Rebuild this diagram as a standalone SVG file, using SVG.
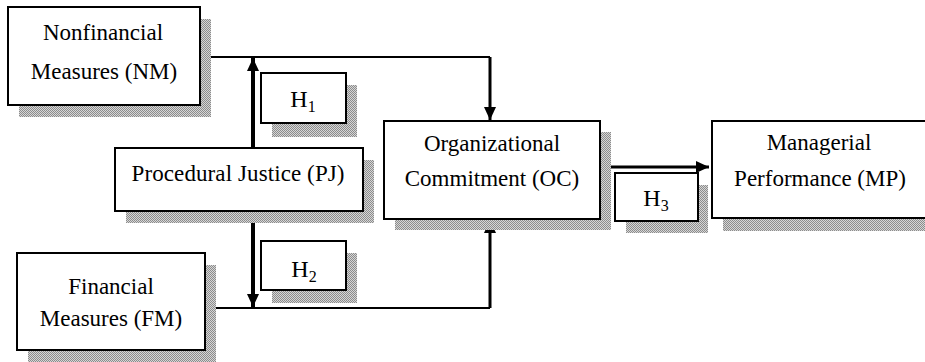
<svg xmlns="http://www.w3.org/2000/svg" width="925" height="362" viewBox="0 0 925 362">
  <style>
    .box { fill: #ffffff; stroke: #000000; stroke-width: 2; }
    .shadow { fill: url(#dither); stroke: none; }
    .label { font-family: "Liberation Serif", "Times New Roman", serif; font-size: 23px; fill: #000000; text-anchor: middle; }
    .hyp { font-family: "Liberation Serif", "Times New Roman", serif; font-size: 24px; fill: #000000; text-anchor: middle; }
    .hyp tspan.sub { font-size: 16px; }
    .thin { fill: none; stroke: #000000; stroke-width: 2; }
    .thick { fill: none; stroke: #000000; stroke-width: 4; }
    .mid { fill: none; stroke: #000000; stroke-width: 3; }
  </style>
  <defs>
    <!-- fine checkerboard used for the drop shadows -->
    <pattern id="dither" width="2" height="2" patternUnits="userSpaceOnUse">
      <rect width="2" height="2" fill="#d6d6d6"/>
      <rect x="0" y="0" width="1" height="1" fill="#8c8c8c"/>
      <rect x="1" y="1" width="1" height="1" fill="#8c8c8c"/>
    </pattern>
    <marker id="arrow" markerUnits="userSpaceOnUse" markerWidth="14" markerHeight="12" refX="13" refY="6" orient="auto">
      <path d="M0,0 L13,6 L0,12 z" fill="#000000"/>
    </marker>
  </defs>

  <rect width="925" height="362" fill="#ffffff"/>

  <!-- connectors -->
  <g id="connectors">
    <path class="thin" d="M200,57 H490"/>
    <path class="mid" d="M490,57 V120" marker-end="url(#arrow)"/>
    <path class="thin" d="M205,308 H490"/>
    <path class="mid" d="M490,308 V220" marker-end="url(#arrow)"/>
    <path class="thick" d="M253,148 V58" marker-end="url(#arrow)"/>
    <path class="thick" d="M253,211 V307" marker-end="url(#arrow)"/>
    <path class="mid" d="M600,167 H709" marker-end="url(#arrow)"/>
  </g>

  <g id="nm">
    <rect class="shadow" x="19" y="19" width="192" height="98"/>
    <rect class="box" x="8" y="7" width="192" height="98"/>
    <text class="label" x="103" y="40">Nonfinancial</text>
    <text class="label" x="104" y="79">Measures (NM)</text>
  </g>

  <g id="fm">
    <rect class="shadow" x="28" y="265" width="188" height="97"/>
    <rect class="box" x="17" y="253" width="188" height="97"/>
    <text class="label" x="111" y="294">Financial</text>
    <text class="label" x="111" y="326">Measures (FM)</text>
  </g>

  <g id="pj">
    <rect class="shadow" x="126" y="160" width="248" height="63"/>
    <rect class="box" x="115" y="148" width="248" height="63"/>
    <text class="label" x="238" y="181" textLength="213" lengthAdjust="spacing">Procedural Justice (PJ)</text>
  </g>

  <g id="oc">
    <rect class="shadow" x="395" y="132" width="216" height="98"/>
    <rect class="box" x="384" y="121" width="216" height="98"/>
    <text class="label" x="492" y="151">Organizational</text>
    <text class="label" x="492" y="186">Commitment (OC)</text>
  </g>

  <g id="mp">
    <rect class="shadow" x="723" y="133" width="230" height="98"/>
    <rect class="box" x="712" y="121" width="230" height="97"/>
    <text class="label" x="819" y="150">Managerial</text>
    <text class="label" x="820" y="186">Performance (MP)</text>
  </g>

  <g id="h1">
    <rect class="shadow" x="272" y="85" width="85" height="52"/>
    <rect class="box" x="261" y="73" width="85" height="50"/>
    <text class="hyp" x="303" y="107">H<tspan class="sub" dy="5">1</tspan></text>
  </g>

  <g id="h2">
    <rect class="shadow" x="272" y="253" width="85" height="50"/>
    <rect class="box" x="261" y="241" width="85" height="49"/>
    <text class="hyp" x="304" y="277">H<tspan class="sub" dy="5">2</tspan></text>
  </g>

  <g id="h3">
    <rect class="shadow" x="626" y="185" width="82" height="48"/>
    <rect class="box" x="615" y="173" width="83" height="48"/>
    <text class="hyp" x="656" y="206">H<tspan class="sub" dy="5">3</tspan></text>
  </g>
</svg>
